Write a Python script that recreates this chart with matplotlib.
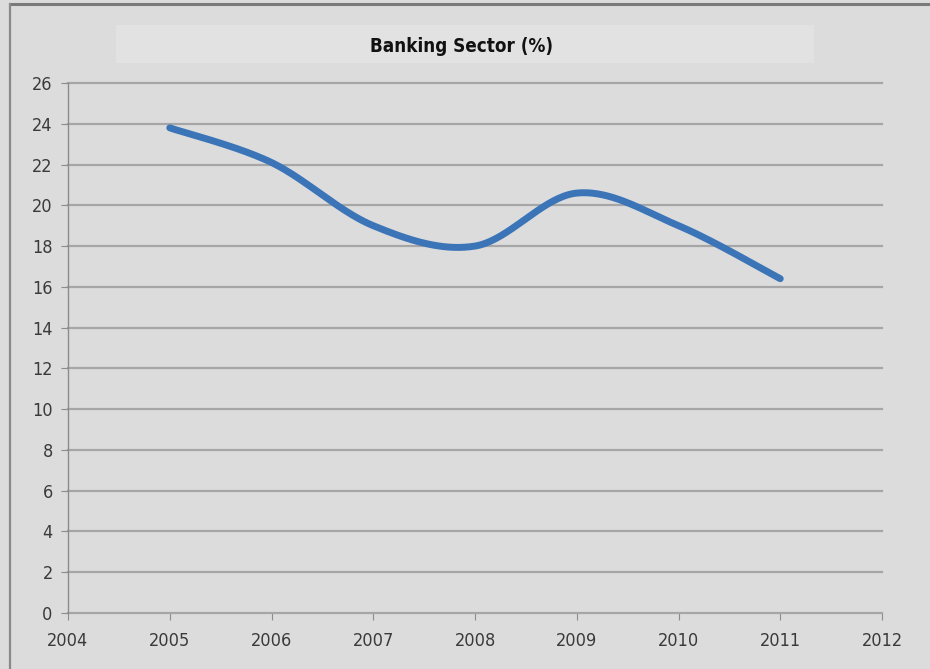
import numpy as np
import matplotlib
matplotlib.use("Agg")
import matplotlib.pyplot as plt
from matplotlib.patches import Rectangle
from matplotlib.lines import Line2D

years = [2005, 2006, 2007, 2008, 2009, 2010, 2011]
banking_share = [23.8, 22.1, 19.0, 18.0, 20.6, 19.0, 16.4]
title = "Banking Sector (%)"

label_font = dict(family="DejaVu Sans", stretch="condensed")


def smooth_curve(xs, ys, steps=40):
    # Catmull-Rom style smoothing, like a spreadsheet "smoothed line"
    xs = np.asarray(xs, float)
    ys = np.asarray(ys, float)
    px = np.concatenate([[xs[0]], xs, [xs[-1]]])
    py = np.concatenate([[ys[0]], ys, [ys[-1]]])
    out_x, out_y = [], []
    for i in range(1, len(px) - 2):
        t = np.linspace(0, 1, steps)
        p0, p1, p2, p3 = (np.array([px[j], py[j]]) for j in range(i - 1, i + 3))
        c1 = p1 + (p2 - p0) / 6
        c2 = p2 - (p3 - p1) / 6
        pts = ((1 - t) ** 3)[:, None] * p1 + (3 * (1 - t) ** 2 * t)[:, None] * c1 \
            + (3 * (1 - t) * t ** 2)[:, None] * c2 + (t ** 3)[:, None] * p2
        out_x.extend(pts[:, 0])
        out_y.extend(pts[:, 1])
    return np.array(out_x), np.array(out_y)


bg = "#dcdcdc"
fig = plt.figure(figsize=(9.3, 6.69), dpi=100)
fig.patch.set_facecolor(bg)

# outer frame lines (top and left)
fig.add_artist(Line2D([10 / 930, 1], [1 - 4 / 669, 1 - 4 / 669], color="#7a7a7a", lw=2.2))
fig.add_artist(Line2D([10 / 930, 10 / 930], [0, 1 - 4 / 669], color="#8a8a8a", lw=1.6))

# title box
fig.add_artist(Rectangle((116 / 930, 1 - 63 / 669), (814 - 116) / 930, 38 / 669,
                         transform=fig.transFigure, facecolor="#e2e2e2", edgecolor="none"))
fig.text(462 / 930, 1 - 46 / 669, title, ha="center", va="center",
         fontsize=13.5, fontweight="bold", color="#111111", **label_font)

ax = fig.add_axes([68 / 930, 1 - 613 / 669, (882 - 68) / 930, (613 - 83) / 669])
ax.set_facecolor(bg)

ax.set_xlim(2004, 2012)
ax.set_ylim(0, 26)
ax.set_yticks(range(0, 27, 2))
ax.set_xticks(range(2004, 2013))
ax.yaxis.grid(True, color="#a6a6a6", lw=1.6)
ax.set_axisbelow(True)
for gl in ax.get_ygridlines():
    gl.set_clip_on(False)

for side in ("top", "right", "bottom"):
    ax.spines[side].set_visible(False)
ax.spines["left"].set_color("#8c8c8c")
ax.spines["left"].set_linewidth(1.0)
ax.tick_params(axis="both", colors="#8c8c8c", labelcolor="#3a3a3a", labelsize=13, length=5)
ax.tick_params(axis="x", pad=9)
ax.tick_params(axis="y", pad=6)
for lab in ax.get_xticklabels() + ax.get_yticklabels():
    lab.set_family(label_font["family"])
    lab.set_stretch(label_font["stretch"])

sx, sy = smooth_curve(years, banking_share)
ax.plot(sx, sy, color="#3b75b8", lw=5, solid_capstyle="round", clip_on=False)

fig.savefig("out.png", dpi=100, facecolor=bg)
